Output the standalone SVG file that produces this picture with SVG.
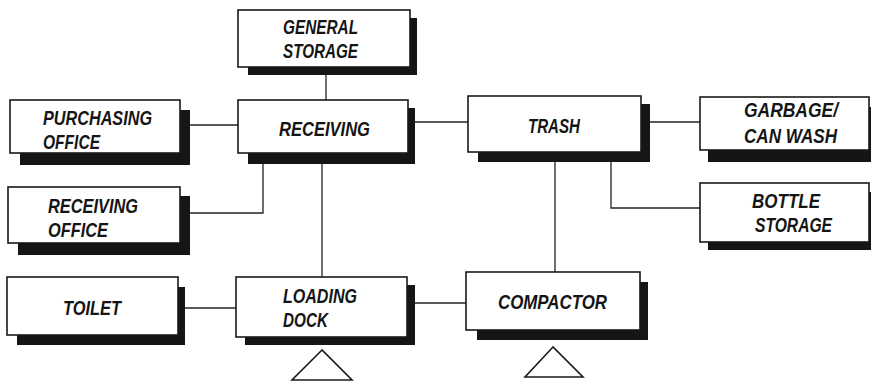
<svg xmlns="http://www.w3.org/2000/svg" width="871" height="382" viewBox="0 0 871 382">
<style>
.sh{fill:#151515;stroke:none}
.bx{fill:#fff;stroke:#1a1a1a;stroke-width:1.6}
.t{font-family:"Liberation Sans",Arial,sans-serif;font-weight:bold;font-style:italic;font-size:19.5px;fill:#151515}
.c{fill:none;stroke:#222;stroke-width:1.3}
.tri{fill:#fff;stroke:#1a1a1a;stroke-width:1.6}
</style>
<rect width="871" height="382" fill="#fff"/>
<g id="connectors">
<path class="c" d="M326 75V100"/>
<path class="c" d="M190 125H238"/>
<path class="c" d="M190 213H263V164"/>
<path class="c" d="M415 122H468"/>
<path class="c" d="M650 122H700"/>
<path class="c" d="M611 162V208H700"/>
<path class="c" d="M555 162V272"/>
<path class="c" d="M322 164V277"/>
<path class="c" d="M185 308H236"/>
<path class="c" d="M415 303H466"/>
</g>
<g id="general-storage">
<rect class="sh" x="248" y="18" width="169" height="57"/>
<rect class="bx" x="238" y="10" width="172" height="57"/>
<text class="t" x="283" y="34" textLength="75" lengthAdjust="spacingAndGlyphs">GENERAL</text>
<text class="t" x="283" y="58" textLength="75" lengthAdjust="spacingAndGlyphs">STORAGE</text>
</g>
<g id="receiving">
<rect class="sh" x="248" y="108" width="167" height="56"/>
<rect class="bx" x="238" y="100" width="170" height="53"/>
<text class="t" x="279" y="136" textLength="91" lengthAdjust="spacingAndGlyphs">RECEIVING</text>
</g>
<g id="purchasing-office">
<rect class="sh" x="20" y="110" width="170" height="55"/>
<rect class="bx" x="10" y="100" width="170" height="53"/>
<text class="t" x="43" y="125" textLength="109" lengthAdjust="spacingAndGlyphs">PURCHASING</text>
<text class="t" x="43" y="149" textLength="57" lengthAdjust="spacingAndGlyphs">OFFICE</text>
</g>
<g id="receiving-office">
<rect class="sh" x="18" y="196" width="172" height="59"/>
<rect class="bx" x="8" y="187" width="172" height="56"/>
<text class="t" x="48" y="213" textLength="90" lengthAdjust="spacingAndGlyphs">RECEIVING</text>
<text class="t" x="48" y="237" textLength="60" lengthAdjust="spacingAndGlyphs">OFFICE</text>
</g>
<g id="trash">
<rect class="sh" x="478" y="104" width="172" height="58"/>
<rect class="bx" x="468" y="96" width="173" height="56"/>
<text class="t" x="528" y="133" textLength="52" lengthAdjust="spacingAndGlyphs">TRASH</text>
</g>
<g id="garbage-can-wash">
<rect class="sh" x="708" y="107" width="170" height="55"/>
<rect class="bx" x="700" y="97" width="169" height="53"/>
<text class="t" x="744" y="117" textLength="94" lengthAdjust="spacingAndGlyphs">GARBAGE/</text>
<text class="t" x="744" y="143" textLength="93" lengthAdjust="spacingAndGlyphs">CAN WASH</text>
</g>
<g id="bottle-storage">
<rect class="sh" x="708" y="192" width="170" height="58"/>
<rect class="bx" x="700" y="183" width="169" height="59"/>
<text class="t" x="752" y="208" textLength="68" lengthAdjust="spacingAndGlyphs">BOTTLE</text>
<text class="t" x="755" y="232" textLength="77" lengthAdjust="spacingAndGlyphs">STORAGE</text>
</g>
<g id="toilet">
<rect class="sh" x="17" y="287" width="168" height="58"/>
<rect class="bx" x="7" y="277" width="171" height="58"/>
<text class="t" x="63" y="315" textLength="58" lengthAdjust="spacingAndGlyphs">TOILET</text>
</g>
<g id="loading-dock">
<rect class="sh" x="245" y="285" width="170" height="60"/>
<rect class="bx" x="236" y="277" width="171" height="60"/>
<text class="t" x="283" y="303" textLength="74" lengthAdjust="spacingAndGlyphs">LOADING</text>
<text class="t" x="283" y="327" textLength="45" lengthAdjust="spacingAndGlyphs">DOCK</text>
<polygon class="tri" points="322,350 292,380 352,380"/>
</g>
<g id="compactor">
<rect class="sh" x="477" y="282" width="171" height="58"/>
<rect class="bx" x="466" y="272" width="174" height="58"/>
<text class="t" x="498" y="309" textLength="109" lengthAdjust="spacingAndGlyphs">COMPACTOR</text>
<polygon class="tri" points="553,347 525,377 583,377"/>
</g>
</svg>
